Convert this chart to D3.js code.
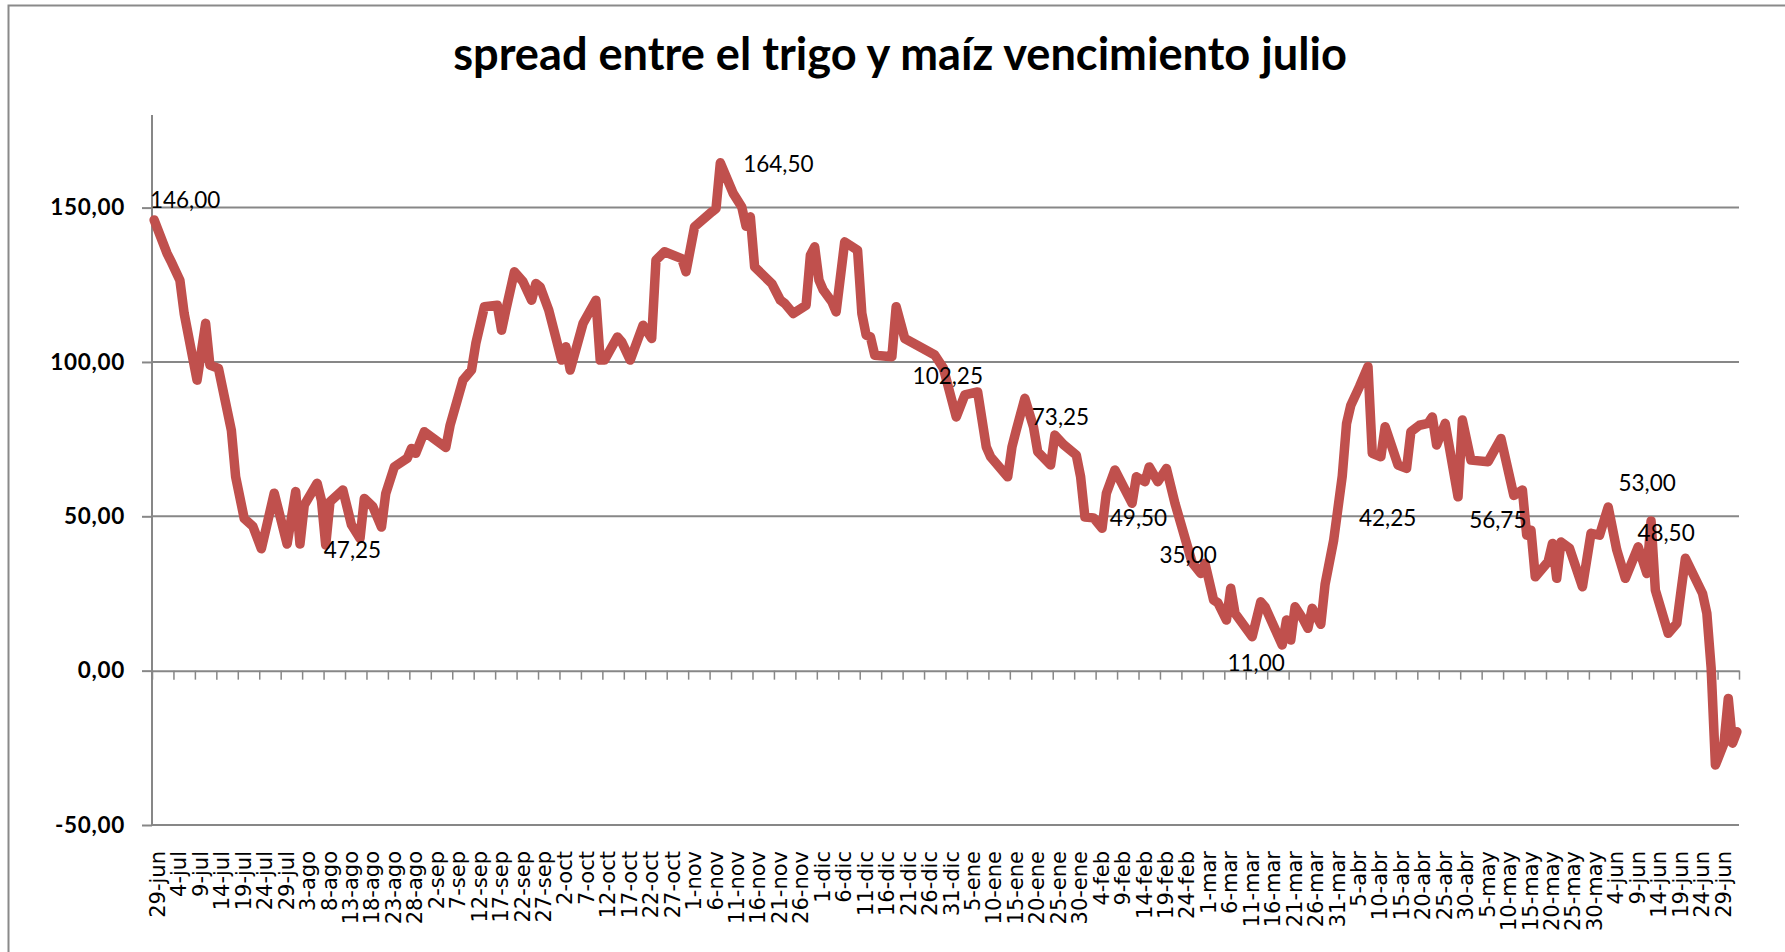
<!DOCTYPE html>
<html>
<head>
<meta charset="utf-8">
<script src="https://cdn.jsdelivr.net/npm/d3@7/dist/d3.min.js"></script>
<style>
  html, body { margin: 0; padding: 0; background: #fff; overflow: hidden; }
  svg { display: block; }
</style>
</head>
<body>
<svg id="chart" width="1785" height="952"></svg>
<script>
// ---- data -------------------------------------------------------------
const chartTitle = "spread entre el trigo y maíz vencimiento julio";

// category labels, one every 5 calendar days starting at 29-jun
const tickLabels = [
  "29-jun","4-jul","9-jul","14-jul","19-jul","24-jul","29-jul",
  "3-ago","8-ago","13-ago","18-ago","23-ago","28-ago",
  "2-sep","7-sep","12-sep","17-sep","22-sep","27-sep",
  "2-oct","7-oct","12-oct","17-oct","22-oct","27-oct",
  "1-nov","6-nov","11-nov","16-nov","21-nov","26-nov",
  "1-dic","6-dic","11-dic","16-dic","21-dic","26-dic","31-dic",
  "5-ene","10-ene","15-ene","20-ene","25-ene","30-ene",
  "4-feb","9-feb","14-feb","19-feb","24-feb",
  "1-mar","6-mar","11-mar","16-mar","21-mar","26-mar","31-mar",
  "5-abr","10-abr","15-abr","20-abr","25-abr","30-abr",
  "5-may","10-may","15-may","20-may","25-may","30-may",
  "4-jun","9-jun","14-jun","19-jun","24-jun","29-jun"
];

// days elapsed since 29-jun for each quote
const dayOffsets = [
  0,3,4,6,7,10,12,13,15,18,19,21,23,25,28,31,33,34,35,38,39,40,41,44,46,48,49,51,53,54,
  56,59,60,61,63,68,69,72,74,75,77,80,81,82,84,86,88,89,90,92,95,96,97,100,103,104,105,108,109,111,
  114,116,117,119,123,124,126,130,131,132,135,137,138,139,140,144,146,147,149,152,153,154,155,156,158,159,161,164,165,166,
  167,168,172,173,175,180,182,184,187,189,192,194,195,199,200,201,203,205,206,209,210,212,215,216,217,219,221,222,224,228,
  229,231,232,234,236,238,242,244,245,247,248,250,251,252,256,258,259,263,264,265,266,268,269,270,272,273,275,277,278,279,
  281,283,284,286,287,290,292,293,295,297,298,299,301,304,305,307,311,314,317,319,320,321,322,325,326,327,328,330,333,335,
  337,339,341,343,346,348,349,350,353,355,356,357,361,362,363,364,366,367,368,369
];

// wheat minus corn, July contracts (cents/bu)
const spread = [
  146.00,135.2,132.4,126.5,115.7,94.1,112.5,99.0,97.9,77.9,62.8,49.3,46.8,39.5,57.5,41.0,58.0,41.0,53.6,60.7,55.2,40.7,54.7,58.5,47.25,42.8,55.8,53.1,46.5,57.4,
  66.0,68.8,72.0,70.4,77.4,72.3,79.5,94.1,97.4,106.0,117.9,118.4,110.3,116.8,129.2,126.0,120.0,125.4,124.3,116.8,100.6,104.9,97.4,112.5,120.0,100.6,100.6,108.1,106.5,100.6,
  111.9,107.6,133.0,135.7,133.5,129.2,143.8,148.6,149.7,164.50,154.6,150.2,144.0,147.0,130.8,125.4,120.0,119.0,115.7,118.4,134.6,137.3,126.5,123.3,119.5,116.2,138.9,136.2,115.7,108.7,
  108.1,102.2,101.7,117.9,107.6,103.8,102.25,98.0,82.2,89.3,90.3,72.5,69.3,62.8,72.5,77.9,88.2,79.0,70.9,66.6,76.3,73.25,69.8,62.8,49.8,49.50,46.1,57.4,65.0,54.2,
  62.8,61.2,66.0,61.2,65.5,54.2,35.00,31.5,34.8,22.9,22.0,16.4,26.7,18.6,11.00,22.3,20.7,8.3,16.4,9.9,20.7,16.4,13.7,20.2,15.0,28.0,42.25,63.0,80.0,86.0,
  92.0,98.5,70.4,69.3,79.0,66.6,65.5,77.4,79.5,80.1,82.2,73.1,80.1,56.3,81.2,68.2,67.7,75.2,56.75,58.5,43.9,45.5,30.4,35.3,41.2,29.9,41.7,39.6,27.2,44.5,
  43.9,53.00,39.1,29.9,40.1,31.5,48.50,26.1,12.1,15.3,26.0,36.4,25.0,18.6,1.0,-30.6,-23.5,-9.0,-23.5,-19.8
];

const yTickValues = [-50, 0, 50, 100, 150];

// quotes that carry a value label
const labelledDays = [0, 46, 132, 182, 212, 219, 242, 256, 275, 317, 339, 349];

// ---- layout -----------------------------------------------------------
const W = 1785, H = 952;
const plot = { left: 152, right: 1739, top: 115, bottom: 825 };
const lineColor = "#C0504D";
const gridColor = "#878787";

// label placement relative to its point: [dx, dy] of the label centre
const labelNudge = {
  0: [31, -20], 46: [1, 25], 132: [58, 1], 182: [13, 21], 212: [-3, -27],
  219: [45, 0], 242: [-4, -7], 256: [4, 26], 275: [54, -22], 317: [-16, 25],
  339: [39, -24], 349: [15, 12]
};

const fmt = v => v.toFixed(2).replace(".", ",");

const svg = d3.select("#chart");

svg.append("rect").attr("width", W).attr("height", H).attr("fill", "#fff");

// outer chart frame
svg.append("rect")
  .attr("x", 8.5).attr("y", 5.5)
  .attr("width", W).attr("height", H)
  .attr("fill", "none").attr("stroke", "#8a8a8a").attr("stroke-width", 2);

const x = d3.scaleLinear().domain([-0.5, 369.5]).range([plot.left, plot.right]);
const y = d3.scaleLinear().domain([-50, 180]).range([plot.bottom, plot.top]);

// title, sized to its box
const t = svg.append("text")
  .attr("x", 900).attr("y", 70)
  .attr("text-anchor", "middle")
  .attr("font-family", "Lato, 'Open Sans', sans-serif")
  .attr("font-weight", 700)
  .attr("font-size", 40)
  .attr("fill", "#000")
  .text(chartTitle);
const tw = t.node().getComputedTextLength();
t.attr("font-size", 40 * 894 / tw);

// horizontal gridlines
svg.append("g")
  .selectAll("line")
  .data(yTickValues.filter(v => v !== 0))
  .join("line")
  .attr("x1", plot.left).attr("x2", plot.right)
  .attr("y1", d => y(d)).attr("y2", d => y(d))
  .attr("stroke", gridColor).attr("stroke-width", 2);

// value axis
const yAxis = svg.append("g")
  .attr("transform", `translate(${plot.left},0)`)
  .call(d3.axisLeft(y).tickValues(yTickValues).tickFormat(fmt)
        .tickSize(10).tickSizeOuter(0).tickPadding(17));
yAxis.select(".domain").attr("stroke", gridColor).attr("stroke-width", 2)
  .attr("d", `M0,${plot.top}V${plot.bottom}`);
yAxis.selectAll(".tick line").attr("stroke", gridColor).attr("stroke-width", 2);
yAxis.selectAll(".tick text")
  .attr("font-family", "Lato, sans-serif")
  .attr("font-weight", 700)
  .attr("font-size", 22.5)
  .attr("letter-spacing", 0.7)
  .attr("fill", "#000");

// category axis crossing at zero, tick every 5 days
const tickDays = d3.range(0, tickLabels.length + 1).map(k => 5 * k - 0.5);
const xAxis = svg.append("g")
  .attr("transform", `translate(0,${y(0)})`)
  .call(d3.axisBottom(x).tickValues(tickDays).tickFormat("").tickSize(9).tickSizeOuter(0));
xAxis.select(".domain").attr("stroke", gridColor).attr("stroke-width", 2);
xAxis.selectAll(".tick line").attr("stroke", gridColor).attr("stroke-width", 1.5);

// category labels along the bottom of the plot
const labelAxis = svg.append("g")
  .attr("transform", `translate(0,${plot.bottom})`)
  .call(d3.axisBottom(x)
        .tickValues(tickLabels.map((_, k) => 5 * k))
        .tickFormat((_, k) => tickLabels[k])
        .tickSize(0));
labelAxis.select(".domain").remove();
labelAxis.selectAll(".tick text")
  .attr("transform", "rotate(-90)")
  .attr("x", -26).attr("y", 3).attr("dy", "0.35em")
  .attr("text-anchor", "end")
  .attr("font-family", "'DejaVu Sans', Verdana, sans-serif")
  .attr("font-size", 21)
  .attr("fill", "#000");

// series
const points = dayOffsets.map((d, i) => ({ day: d, v: spread[i] }));
svg.append("path")
  .datum(points)
  .attr("fill", "none")
  .attr("stroke", lineColor)
  .attr("stroke-width", 9.5)
  .attr("stroke-linejoin", "round")
  .attr("stroke-linecap", "round")
  .attr("d", d3.line().x(d => x(d.day)).y(d => y(d.v)));

// value labels
svg.append("g")
  .selectAll("text")
  .data(points.filter(p => labelledDays.includes(p.day)))
  .join("text")
  .attr("x", d => x(d.day) + labelNudge[d.day][0])
  .attr("y", d => y(d.v) + labelNudge[d.day][1])
  .attr("dy", "0.35em")
  .attr("text-anchor", "middle")
  .attr("font-family", "Lato, sans-serif")
  .attr("font-size", 22.5)
  .attr("fill", "#000")
  .text(d => fmt(d.v));
</script>
</body>
</html>
